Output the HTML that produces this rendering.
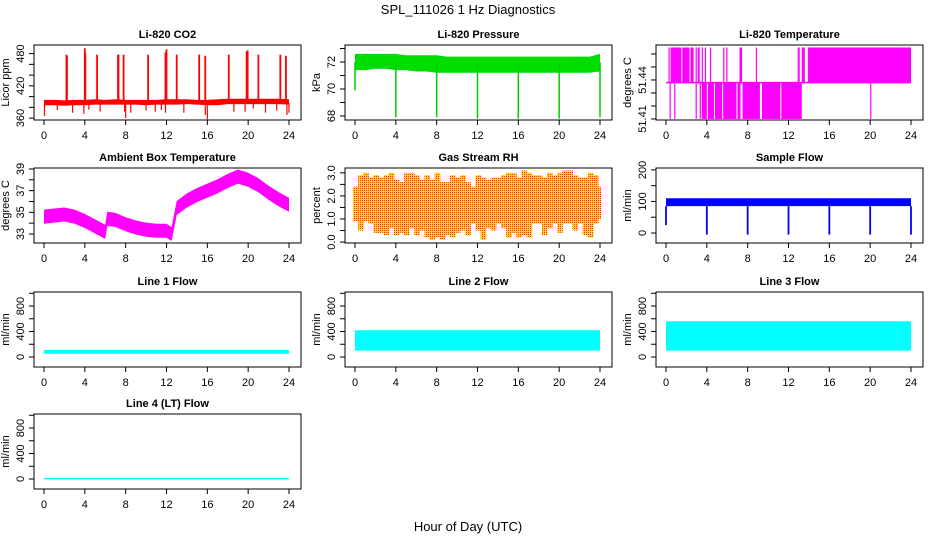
<!DOCTYPE html>
<html><head><meta charset="utf-8"><style>
body{margin:0;background:#fff}
svg{display:block;font-family:"Liberation Sans",sans-serif}
</style></head><body>
<svg id="chart" width="936" height="540" viewBox="0 0 936 540" xmlns="http://www.w3.org/2000/svg">
<defs>
<pattern id="rhpat" width="2" height="2" patternUnits="userSpaceOnUse"><rect width="2" height="2" fill="#ffd800"/><rect width="1" height="1" fill="#ff3000"/></pattern>
</defs>
<text x="468" y="14" text-anchor="middle" font-size="13">SPL_111026  1 Hz Diagnostics</text>
<text x="468" y="531" text-anchor="middle" font-size="13">Hour of Day (UTC)</text>
</svg>
<script>
// ---------- data ----------
const xTicks=[0,4,8,12,16,20,24];
// CO2
const co2Lo=[384,384,383,384,384,385,385,385,385,385,384,385,385,385,386,385,384,384,386,386,386,386,386,386,385];
const co2Hi=[394,394,393,394,394,395,394,395,394,394,394,394,395,395,395,394,394,395,396,396,396,396,396,396,395];
const co2SpikeT=[2.2,2.25,4.0,4.05,5.2,7.25,7.3,7.8,10.2,11.9,12.0,13.0,15.2,15.8,18.1,19.85,19.95,21.0,23.15,23.7];
const co2SpikeV=[478,476,490,480,478,478,478,478,478,482,488,478,478,476,478,484,486,478,478,476];
const co2DipT=[0.05,1.3,2.8,3.9,4.4,5.5,7.9,8.0,8.5,10.0,10.9,11.5,11.9,13.7,15.8,16.0,18.6,19.7,20.5,21.7,22.8,23.8,24];
const co2DipV=[364,375,370,368,376,372,372,360,370,374,372,375,370,370,366,358,372,372,378,370,374,366,370];
// Pressure
const presLo=[71.4,71.4,71.5,71.5,71.4,71.4,71.3,71.3,71.2,71.2,71.2,71.2,71.2,71.2,71.2,71.2,71.2,71.2,71.2,71.2,71.2,71.2,71.2,71.2,71.3];
const presHi=[72.6,72.6,72.6,72.6,72.6,72.5,72.5,72.5,72.5,72.4,72.4,72.4,72.4,72.4,72.4,72.4,72.4,72.4,72.4,72.4,72.4,72.4,72.4,72.4,72.6];
const presDipT=[0,4,8,12,16,20,24];
const presDipV=[69.9,67.9,67.9,67.8,67.8,67.8,67.9];
// Temperature (levels and blocks)
const tempLevels=[51.41,51.438,51.465];
const tempHiBlocks=[[0.25,0.3],[0.45,1.5],[1.6,2.3],[2.4,2.7],[2.9,3.0],[3.1,3.3],[3.5,3.6],[3.8,3.9],[4.3,4.4],[5.6,5.65],[5.9,6.0],[7.2,7.45],[8.8,8.85],[12.9,13.1],[13.3,13.6],[13.9,24]];
const tempLoBlocks=[[0.35,0.4],[0.8,0.85],[2.9,2.95],[3.3,3.35],[3.5,4.0],[4.1,4.7],[4.8,5.5],[5.6,6.9],[7.0,7.3],[7.5,9.2],[9.4,11.2],[11.3,13.3],[20.0,20.05]];
// Ambient box temperature
const ambT=[0,1,2,3,4,5,6,6.2,7,8,9,10,11,12,12.5,13,14,15,16,17,18,19,20,21,22,23,24];
const ambV=[34.6,34.7,34.8,34.6,34.2,33.7,33.2,34.4,34.3,33.9,33.6,33.4,33.3,33.3,33.0,35.4,36.1,36.6,37.0,37.4,37.9,38.3,38.0,37.5,36.8,36.2,35.7];
// Gas stream RH (half-hour bins)
const rhLo=[0.9,0.5,0.9,0.8,0.4,0.4,0.3,0.6,0.3,0.4,0.3,0.6,0.3,0.5,0.2,0.1,0.2,0.1,0.3,0.2,0.4,0.5,0.3,0.8,0.5,0.1,0.6,0.5,0.8,0.6,0.2,0.4,0.2,0.3,0.2,0.8,0.8,0.3,0.6,0.8,0.4,0.8,0.8,0.5,0.8,0.3,0.2,0.8,1.0];
const rhHi=[2.4,2.9,3.0,2.8,2.9,2.8,2.9,3.0,2.7,2.6,3.0,3.0,2.9,2.7,2.9,2.7,3.0,2.6,2.6,2.9,2.8,2.9,2.6,2.4,2.9,2.8,2.7,2.8,2.8,2.9,3.0,3.0,2.8,3.1,3.0,2.9,2.9,2.8,3.0,2.9,3.0,3.1,3.1,2.9,2.8,2.8,3.0,2.9,2.4];
// Sample flow
const sfLo=85, sfHi=110;
const sfDipT=[0,4,8,12,16,20,24];
const sfDipV=[25,-5,-5,-5,-5,-5,-5];
// Line flows [lo, hi]
const lineNames=["Line 1 Flow","Line 2 Flow","Line 3 Flow","Line 4 (LT) Flow"];
const lineLo=[50,100,100,-5];
const lineHi=[110,420,560,15];

// ---------- layout ----------
const svg=document.getElementById('chart');
const NS='http://www.w3.org/2000/svg';
const colL=[34,345,656], rowT=[45,168,292,414], W=267, H=75;
function el(tag,attrs,parent){const e=document.createElementNS(NS,tag);for(const k in attrs)e.setAttribute(k,attrs[k]);(parent||svg).appendChild(e);return e;}
function panel(c,r,title,ylab,ymin,ymax,ticks,labels,name){
  const g=el('g',{});
  
  
  const L=colL[c],T=rowT[r],B=T+H,R=L+W;
  const x=v=>L+10+v*245/24;
  const y=v=>B-(v-ymin)/(ymax-ymin)*H;
  const t=el('text',{x:(L+R)/2,y:T-7,'text-anchor':'middle','font-size':11,'font-weight':'bold'},g);
  t.textContent=title;
  
  
  const data=el('g',{},g);
  xTicks.forEach(v=>{
    el('line',{x1:x(v),x2:x(v),y1:B,y2:B+5,stroke:'#000'},g);
    const tl=el('text',{x:x(v),y:B+19,'text-anchor':'middle','font-size':11},g);tl.textContent=v;
  });
  ticks.forEach(v=>{el('line',{x1:L-5,x2:L,y1:y(v),y2:y(v),stroke:'#000'},g);});
  labels.forEach(v=>{
    const tl=el('text',{x:0,y:0,'text-anchor':'middle','font-size':11,transform:`translate(${L-10},${y(v)}) rotate(-90)`},g);
    tl.textContent=typeof v==='number'&&ymax-ymin<0.2?v.toFixed(2):(ymax-ymin<5?v.toFixed(1):v);
  });
  const yt=el('text',{x:0,y:0,'text-anchor':'middle','font-size':11,transform:`translate(${L-25},${(T+B)/2}) rotate(-90)`},g);
  yt.textContent=ylab;
  
  
  el('rect',{x:L,y:T,width:W,height:H,fill:'none',stroke:'#000'},g);
  return {x,y,g:data};
}
function band(p,ts,lo,hi,fill,name){
  let d='M'+ts.map((t,i)=>p.x(t)+','+p.y(hi[i])).join('L');
  for(let i=ts.length-1;i>=0;i--)d+='L'+p.x(ts[i])+','+p.y(lo[i]);
  const e=el('path',{d:d+'Z',fill:fill},p.g);
  
  
}
function vline(p,t,v1,v2,col,w){el('line',{x1:p.x(t),x2:p.x(t),y1:p.y(v1),y2:p.y(v2),stroke:col,'stroke-width':w||1.5},p.g);}
const hours=co2Lo.map((_,i)=>i);

// CO2
let p=panel(0,0,'Li-820 CO2','Licor ppm',356.5,496,[360,380,400,420,440,460,480],[360,420,480],'co2');
band(p,hours,co2Lo,co2Hi,'#ff0000','co2-band');
co2SpikeT.forEach((t,i)=>vline(p,t,390,co2SpikeV[i],'#ff0000',1.8));
co2DipT.forEach((t,i)=>vline(p,t,388,co2DipV[i],'#ff0000',1.2));
// Pressure
p=panel(1,0,'Li-820 Pressure','kPa',67.7,73.26,[68,69,70,71,72,73],[68,70,72],'pressure');
band(p,hours,presLo,presHi,'#00dd00','pressure-band');
presDipT.forEach((t,i)=>vline(p,t,72,presDipV[i],'#00cc00',1.5));
// Temperature
p=panel(2,0,'Li-820 Temperature','degrees C',51.4092,51.4669,[51.41,51.42,51.43,51.44,51.45,51.46],[51.41,51.44],'temperature');
el('line',{x1:p.x(0),x2:p.x(24),y1:p.y(tempLevels[1]),y2:p.y(tempLevels[1]),stroke:'#ff00ff','stroke-width':1.5},p.g);
tempHiBlocks.forEach(b=>{el('rect',{x:p.x(b[0]),width:Math.max(1.2,p.x(b[1])-p.x(b[0])),y:p.y(tempLevels[2]),height:p.y(tempLevels[1])-p.y(tempLevels[2]),fill:'#ff00ff'},p.g);});
tempLoBlocks.forEach(b=>{el('rect',{x:p.x(b[0]),width:Math.max(1.2,p.x(b[1])-p.x(b[0])),y:p.y(tempLevels[1]),height:p.y(tempLevels[0])-p.y(tempLevels[1]),fill:'#ff00ff'},p.g);});
// Ambient
p=panel(0,1,'Ambient Box Temperature','degrees C',32.17,39.09,[33,34,35,36,37,38,39],[33,35,37,39],'ambient');
band(p,ambT,ambV.map(v=>v-0.65),ambV.map(v=>v+0.65),'#ff00ff','ambient-band');
// RH
p=panel(1,1,'Gas Stream RH','percent',-0.04,3.21,[0,0.5,1,1.5,2,2.5,3],[0,1,2,3],'rh');
rhLo.forEach((lo,i)=>{
  const t=Math.min(i*0.5,23.75);
  el('rect',{x:p.x(t)-2,width:p.x(0.5)-p.x(0)+0.5,y:p.y(rhHi[i]),height:p.y(lo)-p.y(rhHi[i]),fill:'url(#rhpat)'},p.g);
});
band(p,[0,24],[1.0,1.0],[2.3,2.3],'url(#rhpat)','rh-band');
// Sample flow
p=panel(2,1,'Sample Flow','ml/min',-31.7,206,[0,50,100,150,200],[0,100,200],'sample-flow');
band(p,[0,24],[sfLo,sfLo],[sfHi,sfHi],'#0000ff','sample-flow-band');
sfDipT.forEach((t,i)=>vline(p,t,sfLo,sfDipV[i],'#0000ff',1.8));
// Line flows
const linePos=[[0,2],[1,2],[2,2],[0,3]];
lineNames.forEach((n,i)=>{
  const q=panel(linePos[i][0],linePos[i][1],n,'ml/min',-157,1020,[0,200,400,600,800,1000],[0,400,800],'line-'+(i+1)+'-flow');
  band(q,[0,24],[lineLo[i],lineLo[i]],[lineHi[i],lineHi[i]],'#00ffff','line-'+(i+1)+'-band');
});
</script>
</body></html>
